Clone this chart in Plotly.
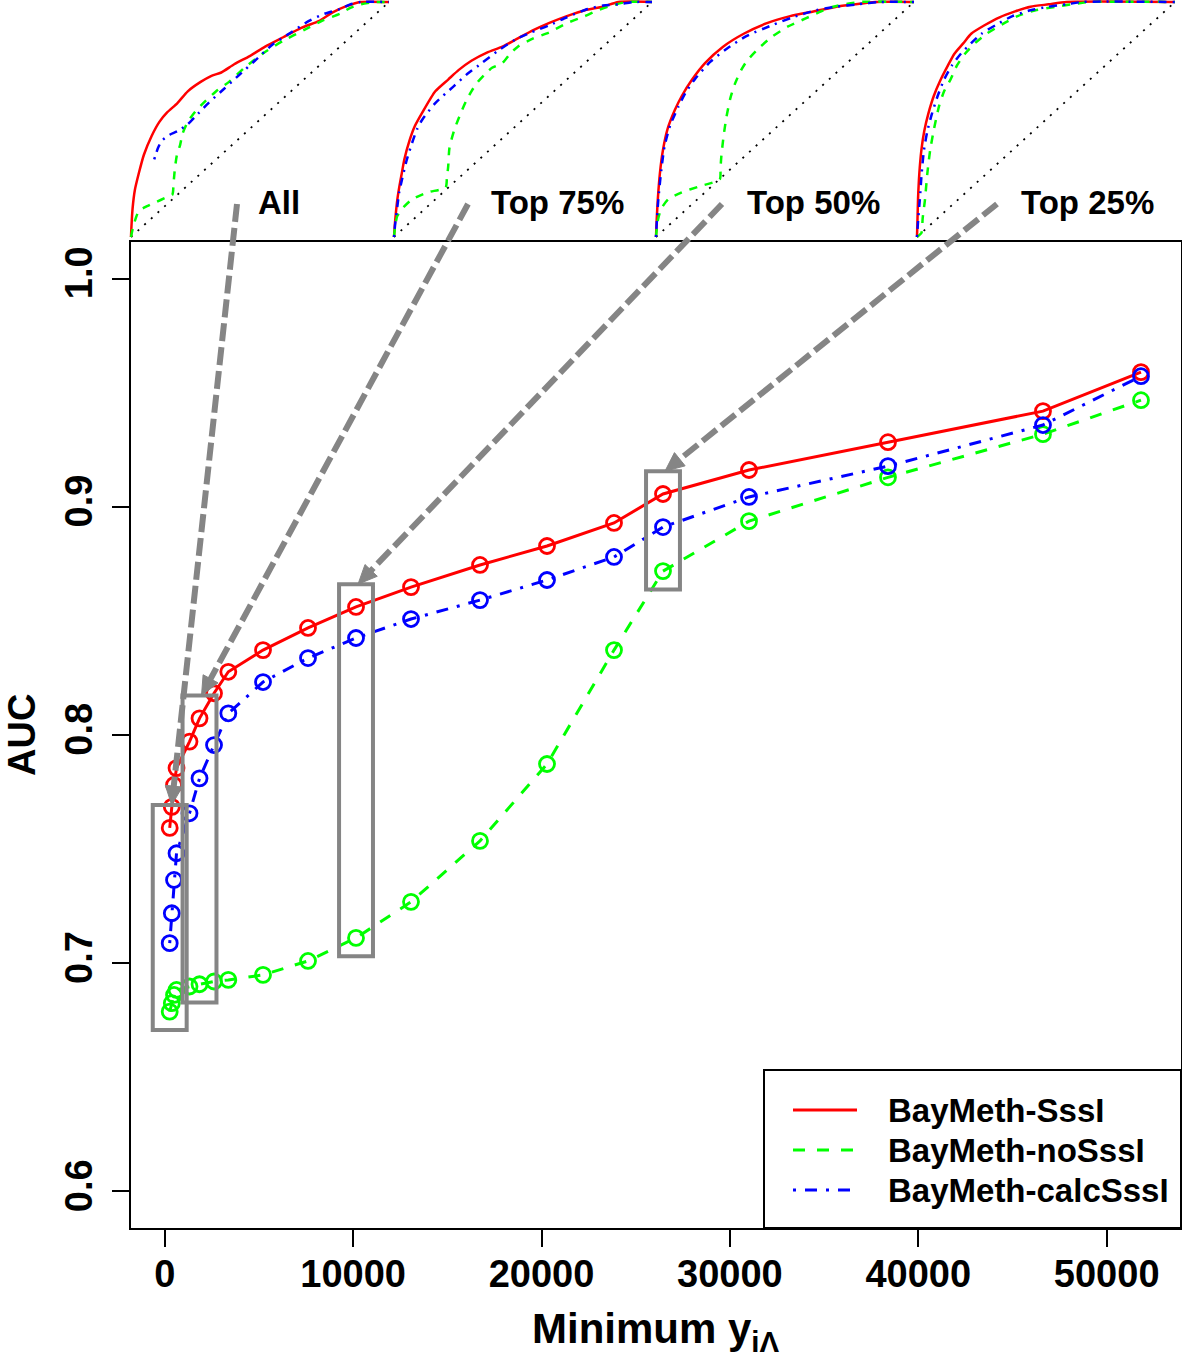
import plotly.graph_objects as go

W, H = 1182, 1361

# ---------------- data ----------------
min_count = [265, 377, 494, 626, 1316, 1847, 2617, 3376, 5218, 7606, 10154,
             13073, 16736, 20292, 23848, 26449, 31014, 38392, 46619, 51821]
auc_sssi = [0.7593, 0.7685, 0.7781, 0.7855, 0.7971, 0.8073, 0.8183, 0.8277, 0.8372, 0.8469,
            0.8561, 0.8648, 0.8745, 0.8828, 0.8929, 0.9056, 0.9161, 0.9283, 0.9419, 0.9590]
auc_nosssi = [0.6788, 0.6825, 0.6861, 0.6883, 0.6898, 0.6908, 0.6920, 0.6927, 0.6949, 0.7010,
              0.7111, 0.7269, 0.7536, 0.7873, 0.8372, 0.8718, 0.8937, 0.9129, 0.9318, 0.9467]
auc_calcsssi = [0.7088, 0.7219, 0.7365, 0.7482, 0.7657, 0.7810, 0.7956, 0.8095, 0.8232, 0.8337,
                0.8425, 0.8508, 0.8591, 0.8679, 0.8780, 0.8911, 0.9043, 0.9178, 0.9358, 0.9572]

series_names = ["BayMeth-SssI", "BayMeth-noSssI", "BayMeth-calcSssI"]

x_ticks = [0, 10000, 20000, 30000, 40000, 50000]
y_ticks = [0.6, 0.7, 0.8, 0.9, 1.0]
y_tick_labels = ["0.6", "0.7", "0.8", "0.9", "1.0"]

subset_labels = ["All", "Top 75%", "Top 50%", "Top 25%"]
subset_index = [0, 5, 10, 15]

# ROC curves (false positive rate, true positive rate) per subset
roc_sssi_fpr = [
    [0, 0.002, 0.006, 0.015, 0.03, 0.05, 0.08, 0.11, 0.14, 0.18, 0.22, 0.27, 0.31, 0.35, 0.40,
     0.46, 0.52, 0.59, 0.66, 0.73, 0.78, 0.83, 0.89, 1.0],
    [0, 0.003, 0.007, 0.013, 0.02, 0.03, 0.04, 0.06, 0.08, 0.11, 0.16, 0.21, 0.25, 0.30, 0.36,
     0.42, 0.48, 0.54, 0.60, 0.67, 0.74, 0.81, 0.87, 1.0],
    [0, 0.003, 0.007, 0.015, 0.027, 0.045, 0.073, 0.10, 0.14, 0.19, 0.26, 0.34, 0.43, 0.52,
     0.61, 0.70, 0.77, 0.85, 1.0],
    [0, 0.002, 0.004, 0.009, 0.017, 0.028, 0.044, 0.065, 0.092, 0.12, 0.145, 0.18, 0.21, 0.26,
     0.32, 0.38, 0.44, 0.51, 0.58, 1.0],
]
roc_sssi_tpr = [
    [0, 0.05, 0.12, 0.20, 0.27, 0.35, 0.43, 0.49, 0.53, 0.57, 0.62, 0.66, 0.685, 0.70, 0.735,
     0.77, 0.81, 0.85, 0.89, 0.92, 0.955, 0.98, 1.0, 1.0],
    [0, 0.05, 0.10, 0.16, 0.21, 0.27, 0.33, 0.41, 0.47, 0.53, 0.62, 0.67, 0.71, 0.75, 0.785,
     0.81, 0.845, 0.88, 0.91, 0.94, 0.965, 0.98, 1.0, 1.0],
    [0, 0.08, 0.16, 0.27, 0.37, 0.46, 0.54, 0.60, 0.67, 0.74, 0.81, 0.865, 0.91, 0.94,
     0.96, 0.98, 0.99, 1.0, 1.0],
    [0, 0.08, 0.16, 0.27, 0.37, 0.45, 0.525, 0.60, 0.67, 0.73, 0.78, 0.825, 0.865, 0.90,
     0.935, 0.96, 0.98, 0.99, 1.0, 1.0],
]
roc_nosssi_fpr = [
    [0, 0.01, 0.03, 0.06, 0.10, 0.13, 0.16, 0.165, 0.17, 0.178, 0.19, 0.20, 0.22, 0.25, 0.29,
     0.33, 0.38, 0.44, 0.51, 0.59, 0.67, 0.74, 0.81, 0.85, 0.89, 0.95, 1.0],
    [0, 0.005, 0.013, 0.04, 0.07, 0.13, 0.20, 0.205, 0.21, 0.215, 0.235, 0.26, 0.28, 0.30,
     0.325, 0.35, 0.38, 0.42, 0.45, 0.48, 0.54, 0.60, 0.67, 0.74, 0.79, 0.83, 0.90, 1.0],
    [0, 0.007, 0.02, 0.047, 0.10, 0.167, 0.247, 0.25, 0.253, 0.262, 0.273, 0.288, 0.307, 0.33,
     0.353, 0.40, 0.447, 0.51, 0.58, 0.64, 0.687, 0.79, 1.0],
    [0, 0.017, 0.022, 0.031, 0.04, 0.051, 0.066, 0.085, 0.105, 0.13, 0.155, 0.186, 0.225, 0.27,
     0.33, 0.39, 0.46, 0.54, 0.60, 0.67, 1.0],
]
roc_nosssi_tpr = [
    [0, 0.05, 0.11, 0.13, 0.15, 0.165, 0.18, 0.23, 0.29, 0.35, 0.39, 0.44, 0.49, 0.535, 0.58,
     0.62, 0.66, 0.72, 0.78, 0.835, 0.88, 0.92, 0.95, 0.975, 0.99, 1.0, 1.0],
    [0, 0.05, 0.09, 0.13, 0.16, 0.19, 0.21, 0.25, 0.30, 0.38, 0.46, 0.53, 0.58, 0.62,
     0.66, 0.69, 0.72, 0.74, 0.78, 0.81, 0.845, 0.87, 0.91, 0.94, 0.965, 0.98, 1.0, 1.0],
    [0, 0.07, 0.12, 0.16, 0.19, 0.215, 0.245, 0.29, 0.34, 0.43, 0.51, 0.59, 0.655, 0.71,
     0.75, 0.805, 0.85, 0.895, 0.93, 0.96, 0.98, 1.0, 1.0],
    [0, 0.017, 0.08, 0.16, 0.27, 0.37, 0.46, 0.555, 0.62, 0.67, 0.73, 0.78, 0.825, 0.865,
     0.905, 0.94, 0.965, 0.98, 0.99, 1.0, 1.0],
]
roc_calcsssi_fpr = [
    [0.09, 0.105, 0.12, 0.15, 0.18, 0.22, 0.26, 0.30, 0.36, 0.42, 0.48, 0.55, 0.62, 0.69, 0.75,
     0.81, 0.85, 0.89, 1.0],
    [0, 0.005, 0.013, 0.02, 0.03, 0.05, 0.07, 0.09, 0.11, 0.16, 0.23, 0.28, 0.34, 0.40, 0.47,
     0.53, 0.60, 0.67, 0.75, 0.81, 0.87, 0.93, 1.0],
    [0, 0.004, 0.009, 0.02, 0.033, 0.055, 0.087, 0.115, 0.153, 0.21, 0.273, 0.35, 0.447, 0.53,
     0.62, 0.70, 0.78, 0.87, 1.0],
    [0, 0.005, 0.011, 0.018, 0.027, 0.04, 0.058, 0.08, 0.105, 0.135, 0.17, 0.21, 0.25, 0.31,
     0.37, 0.44, 0.51, 0.58, 0.64, 1.0],
]
roc_calcsssi_tpr = [
    [0.33, 0.38, 0.41, 0.435, 0.45, 0.48, 0.525, 0.57, 0.63, 0.69, 0.75, 0.82, 0.87, 0.92, 0.95,
     0.97, 0.99, 1.0, 1.0],
    [0, 0.06, 0.13, 0.19, 0.24, 0.33, 0.40, 0.46, 0.50, 0.57, 0.64, 0.69, 0.74, 0.79, 0.84,
     0.87, 0.90, 0.935, 0.97, 0.985, 0.99, 1.0, 1.0],
    [0, 0.08, 0.16, 0.28, 0.385, 0.475, 0.555, 0.615, 0.675, 0.745, 0.80, 0.855, 0.90, 0.935,
     0.965, 0.98, 0.99, 1.0, 1.0],
    [0, 0.08, 0.16, 0.27, 0.37, 0.45, 0.525, 0.60, 0.67, 0.73, 0.78, 0.825, 0.865, 0.905,
     0.94, 0.965, 0.98, 0.99, 1.0, 1.0],
]
chance_line = [0, 1]

# ---------------- styles / geometry ----------------
FONT = "Liberation Sans, Arial, Helvetica, sans-serif"
RED, GREEN, BLUE, GRAY = "#FF0000", "#00FF00", "#0000FF", "#858585"
colors = [RED, GREEN, BLUE]
main_dash = ["solid", "12px,12px", "3px,9px,12px,9px"]
inset_dash = ["solid", "8px,8px", "2px,6px,8px,6px"]

PL, PR, PT, PB = 131, 1181, 242, 1228          # main plot box (px)
X_RANGE = [-1790, 53945]
Y_RANGE = [0.584, 1.016]

inset_left = [131, 394, 656, 917]
inset_w = 258
inset_top, inset_bot = 2, 237
label_centers = [(279, 202), (557, 202), (813, 202), (1087, 202)]
arrow_tails = [(237, 204), (468, 204), (722, 204), (997, 204)]


def px_to_paper(px, py):
    return px / W, 1 - py / H


def data_to_px(x, y):
    px = PL + (x - X_RANGE[0]) / (X_RANGE[1] - X_RANGE[0]) * (PR - PL)
    py = PB - (y - Y_RANGE[0]) / (Y_RANGE[1] - Y_RANGE[0]) * (PB - PT)
    return px, py


fig = go.Figure()

# ---------------- main traces ----------------
for name, vals, col, dash in zip(series_names, [auc_sssi, auc_nosssi, auc_calcsssi], colors, main_dash):
    fig.add_trace(go.Scatter(
        x=min_count, y=vals, mode="lines+markers", name=name, showlegend=False,
        line=dict(color=col, width=3, dash=dash),
        marker=dict(symbol="circle-open", size=15, color=col, line=dict(width=2.8, color=col)),
        xaxis="x", yaxis="y"))

# ---------------- inset ROC traces ----------------
roc_sets = [(roc_sssi_fpr, roc_sssi_tpr), (roc_nosssi_fpr, roc_nosssi_tpr), (roc_calcsssi_fpr, roc_calcsssi_tpr)]
for k in range(4):
    ax = str(k + 2)
    fig.add_trace(go.Scatter(x=chance_line, y=chance_line, mode="lines", showlegend=False,
                             line=dict(color="black", width=1.8, dash="2px,7px"),
                             xaxis="x" + ax, yaxis="y" + ax))
    for (fpr, tpr), col, dash in zip(roc_sets, colors, inset_dash):
        fig.add_trace(go.Scatter(x=fpr[k], y=tpr[k], mode="lines", showlegend=False,
                                 line=dict(color=col, width=2.5, dash=dash, shape="spline", smoothing=0.6),
                                 xaxis="x" + ax, yaxis="y" + ax))

# ---------------- layout ----------------
tickfont = dict(family=FONT, size=38, color="black", weight="bold")
layout = dict(
    width=W, height=H, autosize=False,
    margin=dict(l=0, r=0, t=0, b=0, pad=0),
    paper_bgcolor="white", plot_bgcolor="white",
    showlegend=False,
    xaxis=dict(domain=[PL / W, PR / W], range=X_RANGE, tickvals=x_ticks,
               ticktext=[str(v) for v in x_ticks],
               showgrid=False, zeroline=False, showline=True, mirror=True,
               linecolor="black", linewidth=2, ticks="outside", ticklen=17,
               tickwidth=2, tickcolor="black", tickfont=tickfont, ticklabelstandoff=-6),
    yaxis=dict(domain=[1 - PB / H, 1 - PT / H], range=Y_RANGE, tickvals=y_ticks,
               ticktext=y_tick_labels, tickangle=-90,
               showgrid=False, zeroline=False, showline=True, mirror=True,
               linecolor="black", linewidth=2, ticks="outside", ticklen=17,
               tickwidth=2, tickcolor="black", tickfont=tickfont, ticklabelstandoff=5),
)
ih = inset_bot - inset_top
for k in range(4):
    L = inset_left[k]
    layout["xaxis" + str(k + 2)] = dict(
        domain=[(L - 2) / W, (L + inset_w + 2) / W],
        range=[-2 / inset_w, 1 + 2 / inset_w], visible=False, fixedrange=True,
        anchor="y" + str(k + 2))
    layout["yaxis" + str(k + 2)] = dict(
        domain=[1 - (inset_bot + 2) / H, 1 - (inset_top - 2) / H],
        range=[-2 / ih, 1 + 2 / ih], visible=False, fixedrange=True,
        anchor="x" + str(k + 2))
fig.update_layout(**layout)

shapes = []
annotations = []

# ---------------- highlight boxes + arrows ----------------
all_series = [auc_sssi, auc_nosssi, auc_calcsssi]
for k, idx in enumerate(subset_index):
    xc = min_count[idx]
    ys = [s[idx] for s in all_series]
    y_top = max(ys) + 0.010
    y_bot = min(ys) - 0.008
    shapes.append(dict(type="rect", xref="x", yref="y", x0=xc - 900, x1=xc + 900,
                       y0=y_bot, y1=y_top, line=dict(color=GRAY, width=4),
                       fillcolor="rgba(0,0,0,0)", layer="above"))
    hx, hy = data_to_px(xc, y_top)
    hx += 2
    tx, ty = arrow_tails[k]
    dx, dy = hx - tx, hy - ty
    ln = (dx * dx + dy * dy) ** 0.5
    ux, uy = dx / ln, dy / ln
    head_len, head_w = 19, 8.5
    bx, by = hx - head_len * ux, hy - head_len * uy
    x0p, y0p = px_to_paper(tx, ty)
    x1p, y1p = px_to_paper(bx + 2 * ux, by + 2 * uy)
    shapes.append(dict(type="line", xref="paper", yref="paper", x0=x0p, y0=y0p, x1=x1p, y1=y1p,
                       line=dict(color=GRAY, width=6, dash="18px,6px"), layer="above"))
    nx, ny = -uy, ux
    pts = [(hx, hy), (bx + head_w * nx, by + head_w * ny), (bx - head_w * nx, by - head_w * ny)]
    path = "M " + " L ".join("%.5f,%.5f" % px_to_paper(px, py) for px, py in pts) + " Z"
    shapes.append(dict(type="path", xref="paper", yref="paper", path=path,
                       fillcolor=GRAY, line=dict(color=GRAY, width=1), layer="above"))
    lx, ly = px_to_paper(*label_centers[k])
    annotations.append(dict(text=subset_labels[k], x=lx, y=ly, xref="paper", yref="paper",
                            xanchor="center", yanchor="middle", showarrow=False,
                            font=dict(family=FONT, size=33, color="black", weight="bold")))

# ---------------- legend (drawn manually) ----------------
lx0, ly0 = px_to_paper(764, 1070)
lx1, ly1 = px_to_paper(1181, 1228)
shapes.append(dict(type="rect", xref="paper", yref="paper", x0=lx0, y0=ly0, x1=lx1, y1=ly1,
                   line=dict(color="black", width=2), fillcolor="white", layer="above"))
legend_rows = [1110, 1150, 1190]
for name, col, dash, ry in zip(series_names, colors, main_dash, legend_rows):
    ax0, ay = px_to_paper(793, ry)
    ax1, _ = px_to_paper(857, ry)
    shapes.append(dict(type="line", xref="paper", yref="paper", x0=ax0, x1=ax1, y0=ay, y1=ay,
                       line=dict(color=col, width=3, dash=dash), layer="above"))
    tx, ty = px_to_paper(886, ry)
    annotations.append(dict(text=name, x=tx, y=ty, xref="paper", yref="paper",
                            xanchor="left", yanchor="middle", showarrow=False,
                            font=dict(family=FONT, size=33, color="black", weight="bold")))

# ---------------- axis titles ----------------
ax_, ay_ = px_to_paper(22, 735)
annotations.append(dict(text="AUC", x=ax_, y=ay_, xref="paper", yref="paper", textangle=-90,
                        xanchor="center", yanchor="middle", showarrow=False,
                        font=dict(family=FONT, size=38, color="black", weight="bold")))
bx_, by_ = px_to_paper(656, 1331)
annotations.append(dict(text="Minimum y<sub>iΛ</sub>", x=bx_, y=by_, xref="paper", yref="paper",
                        xanchor="center", yanchor="middle", showarrow=False,
                        font=dict(family=FONT, size=42, color="black", weight="bold")))

fig.update_layout(shapes=shapes, annotations=annotations)

fig.write_html("out.html", config={"displayModeBar": False},
               post_script="document.body.style.margin='0';")
